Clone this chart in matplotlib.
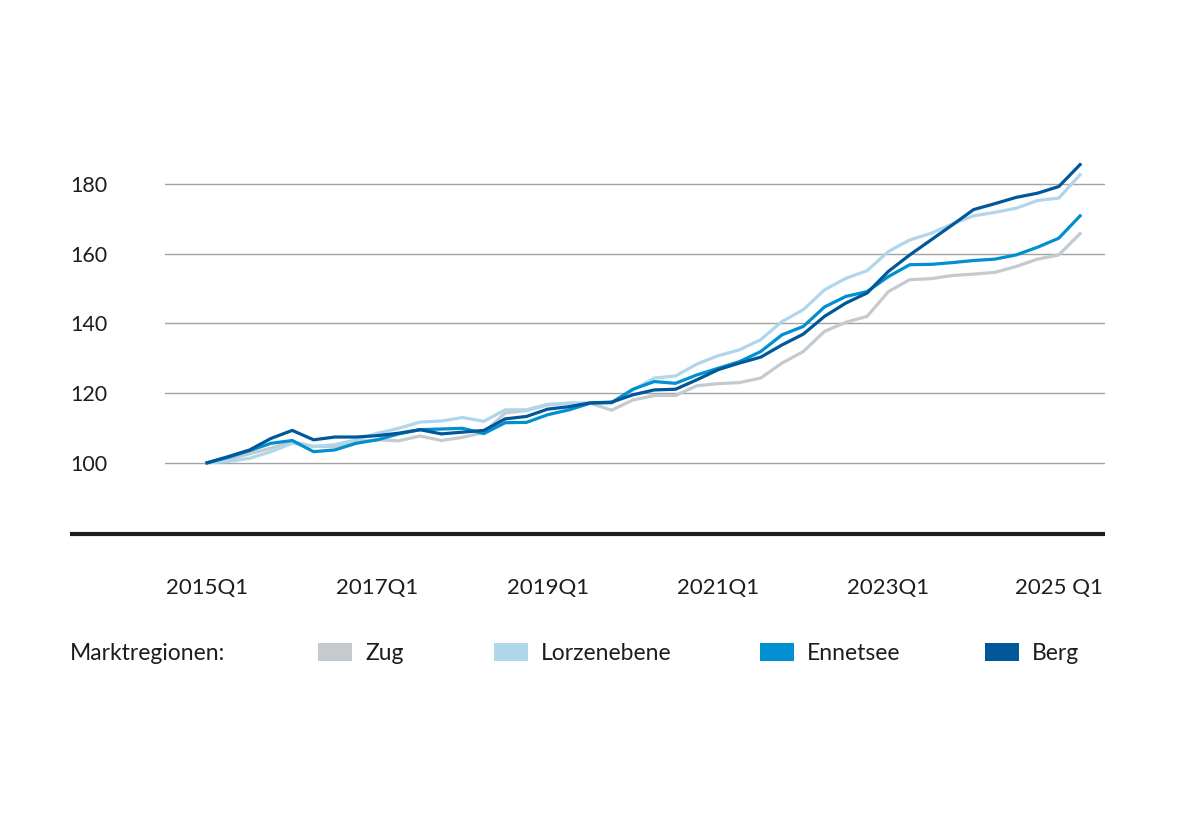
import matplotlib
matplotlib.use("Agg")
import matplotlib.pyplot as plt
from matplotlib.lines import Line2D
from matplotlib.patches import Rectangle

# ---------------- data ----------------
quarters = [f"{y}Q{q}" for y in range(2015, 2026) for q in range(1, 5)][:42]

zug = [100.0, 101.0, 102.6, 104.2, 106.1, 104.7, 104.7, 106.1, 106.6, 106.3,
       107.7, 106.4, 107.3, 108.7, 114.3, 115.0, 116.6, 117.1, 117.1, 115.1,
       118.0, 119.3, 119.3, 122.1, 122.7, 123.0, 124.3, 128.6, 131.9, 137.7,
       140.3, 142.0, 149.1, 152.5, 152.8, 153.7, 154.1, 154.6, 156.3, 158.4,
       159.6, 165.7]
lorzenebene = [100.0, 100.4, 101.3, 103.2, 105.6, 104.7, 105.2, 106.6, 108.5, 109.9,
               111.7, 112.0, 113.0, 111.9, 115.2, 115.2, 116.8, 117.1, 117.1, 117.1,
               120.9, 124.3, 124.9, 128.3, 130.7, 132.4, 135.3, 140.5, 143.9, 149.6,
               152.9, 155.1, 160.6, 163.9, 165.8, 168.5, 170.8, 171.8, 173.0, 175.2,
               175.9, 182.6]
ennetsee = [100.0, 101.6, 103.5, 105.6, 106.4, 103.2, 103.7, 105.6, 106.6, 108.3,
            109.5, 109.7, 109.9, 108.4, 111.5, 111.6, 113.8, 115.2, 117.1, 117.3,
            121.1, 123.3, 122.8, 125.2, 127.1, 129.0, 131.9, 136.7, 139.1, 144.7,
            147.7, 149.1, 153.4, 156.8, 156.9, 157.4, 158.0, 158.4, 159.6, 161.8,
            164.4, 170.8]
berg = [100.0, 101.8, 103.7, 107.0, 109.3, 106.6, 107.4, 107.4, 107.8, 108.5,
        109.5, 108.3, 108.8, 109.3, 112.6, 113.3, 115.4, 116.1, 117.2, 117.4,
        119.5, 120.9, 121.1, 123.8, 126.7, 128.6, 130.3, 133.8, 136.9, 142.0,
        145.8, 148.7, 154.9, 159.6, 163.9, 168.2, 172.6, 174.3, 176.1, 177.3,
        179.2, 185.5]

series_names = ["Zug", "Lorzenebene", "Ennetsee", "Berg"]
series_values = [zug, lorzenebene, ennetsee, berg]
series_colors = ["#c4cacd", "#b0d6ec", "#0090d2", "#00589a"]

y_ticks = [100, 120, 140, 160, 180]
x_tick_idx = [0, 8, 16, 24, 32, 40]
x_tick_labels = ["2015Q1", "2017Q1", "2019Q1", "2021Q1", "2023Q1", "2025 Q1"]
legend_title = "Marktregionen:"

# ---------------- style ----------------
plt.rcParams['font.family'] = ['Lato', 'DejaVu Sans']
plt.rcParams['font.weight'] = 'normal'
TXT = "#1d1d1b"
FS_TICK = 15.5
FS_LEG = 16.5

W, H = 1181, 827
fig = plt.figure(figsize=(W / 100, H / 100), dpi=100)
fig.patch.set_facecolor("white")

ax_left, ax_right, ax_bottom, ax_top = 165, 1105, 534, 114
ax = fig.add_axes([ax_left / W, 1 - ax_bottom / H,
                   (ax_right - ax_left) / W, (ax_bottom - ax_top) / H])

x = list(range(len(quarters)))
for name, vals, col in zip(series_names, series_values, series_colors):
    ax.plot(x, vals, color=col, lw=2.3, solid_joinstyle="miter", label=name, zorder=3)

ax.set_xlim(-1.977, 42.17)
ax.set_ylim(79.6, 200)

for s in ax.spines.values():
    s.set_visible(False)

ax.set_yticks(y_ticks)
ax.set_yticklabels([str(v) for v in y_ticks])
ax.tick_params(axis="y", length=0, pad=68.4, labelsize=FS_TICK, labelcolor=TXT)
for lab in ax.get_yticklabels():
    lab.set_horizontalalignment("left")
ax.yaxis.grid(True, color="#a3a3a3", lw=1.0)
ax.set_axisbelow(True)

ax.set_xticks(x_tick_idx)
ax.set_xticklabels(x_tick_labels)
ax.tick_params(axis="x", length=0, pad=32, labelsize=FS_TICK + 0.5, labelcolor=TXT)

# thick baseline across the chart
fig.add_artist(Line2D([70 / W, 1105 / W], [1 - 534 / H, 1 - 534 / H],
                      color="#1d1d1b", lw=3.0, solid_capstyle="butt"))

# legend row
ly = 1 - 653 / H
fig.text(70 / W, ly, legend_title, fontsize=FS_LEG, color=TXT, va="center", ha="left")
legend_x = [318, 494, 760, 985]
for name, col, lx in zip(series_names, series_colors, legend_x):
    fig.add_artist(Rectangle((lx / W, 1 - 661 / H), 34 / W, 18 / H,
                             transform=fig.transFigure, facecolor=col, edgecolor="none"))
    fig.text((lx + 47) / W, ly, name, fontsize=FS_LEG, color=TXT, va="center", ha="left")

fig.savefig("out.png", dpi=100, facecolor="white")
